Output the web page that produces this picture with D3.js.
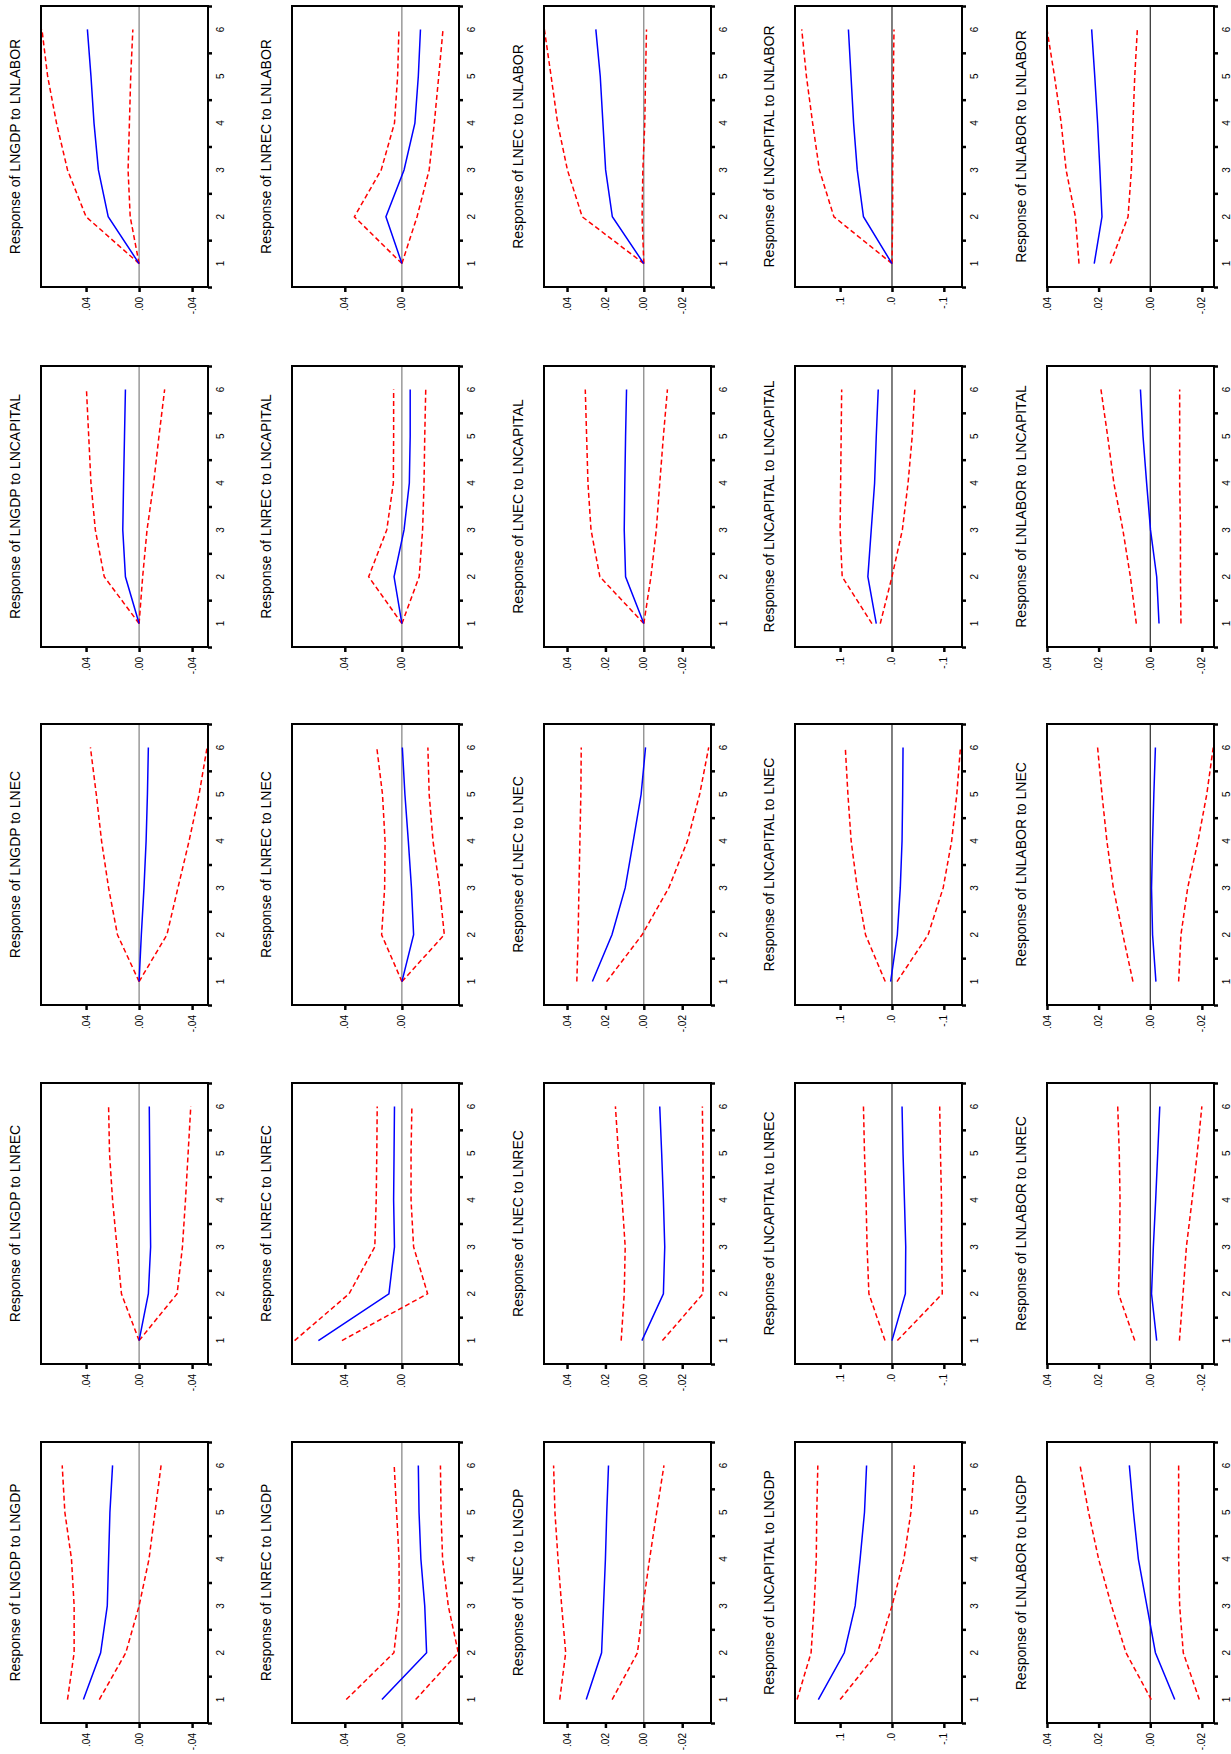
<!DOCTYPE html>
<html>
<head>
<meta charset="utf-8">
<script src="https://cdn.jsdelivr.net/npm/d3@7"></script>
<style>
  body { margin: 0; background: #fff; }
  text { font-family: "Liberation Sans", Arial, sans-serif; }
</style>
</head>
<body>
<svg id="container" width="1231" height="1754"></svg>
<script>
(function (d3) {
  'use strict';

  const variables = ['LNGDP', 'LNREC', 'LNEC', 'LNCAPITAL', 'LNLABOR'];
  const periods = [1, 2, 3, 4, 5, 6];

  // value axis ticks per responding variable
  const valueTicks = [
    [0.04, 0, -0.04],
    [0.04, 0],
    [0.04, 0.02, 0, -0.02],
    [0.1, 0, -0.1],
    [0.04, 0.02, 0, -0.02],
  ];
  const valueDecimals = [2, 2, 2, 1, 2];
  const valueDomains = [
    [0.074, -0.052],
    [0.077, -0.040],
    [0.052, -0.035],
    [0.187, -0.135],
    [0.040, -0.0247],
  ];

  // rows = responding variable (LNGDP, LNREC, LNEC, LNCAPITAL, LNLABOR), 6 periods each
  const meanLNGDP = [
    [.042, .029, .024, .023, .022, .020],
    [.014, -.0173, -.016, -.0133, -.012, -.0115],
    [.030, .022, .021, .020, .0193, .0184],
    [.142, .092, .071, .0615, .053, .049],
    [-.0095, -.002, .0013, .0046, .0065, .0081],
  ];
  const highLNGDP = [
    [.054, .049, .049, .051, .056, .058],
    [.039, .0056, .0019, .002, .0037, .0054],
    [.0438, .0407, .0428, .0447, .0463, .047],
    [.183, .156, .15, .146, .145, .143],
    [-.0004, .0094, .015, .02, .0239, .0272],
  ];
  const lowLNGDP = [
    [.030, .010, 0, -.0075, -.012, -.0166],
    [-.0096, -.0395, -.0325, -.0285, -.0274, -.027],
    [.0165, .0033, .0004, -.003, -.0067, -.0105],
    [.1, .028, 0, -.023, -.0365, -.043],
    [-.019, -.0128, -.0114, -.011, -.011, -.011],
  ];

  const meanLNREC = [
    [0, -.007, -.0087, -.0083, -.008, -.0077],
    [.0585, .0091, .0052, .0058, .0055, .0052],
    [.001, -.0102, -.0109, -.0102, -.0093, -.0083],
    [0, -.0258, -.0265, -.024, -.0213, -.0194],
    [-.0025, -.0005, -.0012, -.0021, -.0029, -.0037],
  ];
  const highLNREC = [
    [0, .0133, .0167, .02, .0223, .023],
    [.0752, .037, .019, .018, .0176, .0173],
    [.0118, .0102, .0097, .0113, .0132, .0148],
    [.0135, .0445, .048, .05, .053, .055],
    [.006, .0123, .0119, .0117, .012, .0126],
  ];
  const lowLNREC = [
    [0, -.0287, -.0327, -.035, -.037, -.039],
    [.042, -.018, -.0082, -.0064, -.0064, -.007],
    [-.0097, -.0308, -.031, -.031, -.0308, -.0305],
    [-.0103, -.097, -.0955, -.0955, -.0935, -.092],
    [-.0113, -.0127, -.014, -.0162, -.0182, -.02],
  ];

  const meanLNEC = [
    [0, -.0017, -.0037, -.0053, -.0063, -.007],
    [0, -.0082, -.0067, -.0045, -.0021, -.0003],
    [.0268, .0166, .0097, .0055, .0014, -.0009],
    [.0026, -.0103, -.016, -.0194, -.0206, -.0213],
    [-.0022, -.0009, -.0005, -.0009, -.0014, -.002],
  ];
  const highLNEC = [
    [0, .0163, .023, .0283, .0323, .0367],
    [0, .0142, .0121, .0118, .0136, .0176],
    [.0349, .0342, .0338, .0333, .0328, .0326],
    [.013, .051, .067, .0787, .085, .09],
    [.0067, .0106, .0143, .0168, .0187, .0204],
  ];
  const lowLNEC = [
    [0, -.021, -.0293, -.0377, -.0453, -.0513],
    [0, -.0297, -.0264, -.0218, -.0191, -.0182],
    [.0194, .0009, -.013, -.0227, -.0291, -.0338],
    [-.0097, -.0697, -.0987, -.115, -.125, -.132],
    [-.011, -.0119, -.0145, -.0185, -.0219, -.0244],
  ];

  const meanLNCAPITAL = [
    [0, .0103, .0123, .0117, .011, .0103],
    [0, .0055, -.0015, -.0052, -.0058, -.0058],
    [0, .0095, .0102, .0099, .0095, .009],
    [.0303, .0465, .04, .0335, .0303, .0265],
    [-.0034, -.0025, -.0001, .0014, .0028, .0038],
  ];
  const highLNCAPITAL = [
    [0, .0263, .033, .0363, .038, .0397],
    [0, .0233, .0106, .006, .0058, .0058],
    [0, .0229, .0275, .0291, .0298, .0305],
    [.0387, .096, .1, .099, .098, .097],
    [.0054, .0077, .0106, .0141, .0165, .0191],
  ];
  const lowLNCAPITAL = [
    [0, -.0027, -.006, -.011, -.015, -.0193],
    [0, -.0121, -.0145, -.0155, -.016, -.0167],
    [0, -.0037, -.0065, -.0083, -.0102, -.0123],
    [.0226, 0, -.02, -.031, -.039, -.044],
    [-.0119, -.0117, -.0117, -.0114, -.0114, -.0114],
  ];

  const meanLNLABOR = [
    [0, .0233, .0307, .034, .0363, .039],
    [0, .0112, -.0015, -.0091, -.0115, -.013],
    [0, .0164, .0199, .0213, .0227, .025],
    [0, .055, .067, .074, .079, .084],
    [.0217, .0187, .0195, .0204, .0215, .0227],
  ];
  const highLNLABOR = [
    [0, .04, .054, .0623, .069, .0733],
    [0, .0333, .0145, .0052, .003, .0021],
    [0, .0321, .0398, .0449, .0483, .0518],
    [0, .112, .14, .153, .165, .174],
    [.0276, .029, .0326, .0345, .0371, .04],
  ];
  const lowLNLABOR = [
    [0, .0067, .0083, .0073, .0063, .0047],
    [0, -.0106, -.0191, -.0227, -.0258, -.0288],
    [0, .0009, .0005, -.0005, -.0009, -.0014],
    [0, -.0013, -.0013, -.0026, -.0026, -.0039],
    [.0155, .0086, .0073, .0067, .006, .005],
  ];

  const shocks = [
    { name: 'LNGDP', mean: meanLNGDP, hi: highLNGDP, lo: lowLNGDP },
    { name: 'LNREC', mean: meanLNREC, hi: highLNREC, lo: lowLNREC },
    { name: 'LNEC', mean: meanLNEC, hi: highLNEC, lo: lowLNEC },
    { name: 'LNCAPITAL', mean: meanLNCAPITAL, hi: highLNCAPITAL, lo: lowLNCAPITAL },
    { name: 'LNLABOR', mean: meanLNLABOR, hi: highLNLABOR, lo: lowLNLABOR },
  ];

  // the usual EViews grid, turned a quarter turn on the page
  const BOX_W = 167;
  const BOX_H = 281;
  const colLeft = [41, 292, 544, 795, 1047];
  const rowTop = [1442, 1083, 724, 366, 6]; // by shock

  // EViews style: ".04", "-.02", ".0"
  const fmt = (v, dec) => {
    const s = Math.abs(v).toFixed(dec).replace(/^0/, '');
    return (v < 0 ? '-' : '') + s;
  };

  const svg = d3.select('#container');

  shocks.forEach((shock, si) => {
    variables.forEach((resp, ri) => {
      const g = svg.append('g')
        .attr('transform', `translate(${colLeft[ri]},${rowTop[si]})`);

      const x = d3.scaleLinear().domain(valueDomains[ri]).range([0, BOX_W]);
      const y = d3.scaleLinear().domain([0.5, 6.5]).range([BOX_H, 0]);

      const clipId = `clip-${si}-${ri}`;
      g.append('clipPath').attr('id', clipId)
        .append('rect').attr('width', BOX_W).attr('height', BOX_H);

      // zero line
      g.append('line')
        .attr('x1', x(0)).attr('x2', x(0))
        .attr('y1', 0).attr('y2', BOX_H)
        .attr('stroke', ri >= 3 ? '#000' : '#666')
        .attr('stroke-width', 1);

      const line = d3.line()
        .x((d) => x(d))
        .y((d, i) => y(periods[i]));

      const plot = g.append('g').attr('clip-path', `url(#${clipId})`);
      [shock.hi[ri], shock.lo[ri]].forEach((vals) => {
        plot.append('path')
          .attr('d', line(vals))
          .attr('fill', 'none')
          .attr('stroke', '#ff0000')
          .attr('stroke-width', 1.5)
          .attr('stroke-dasharray', '5,3');
      });
      plot.append('path')
        .attr('d', line(shock.mean[ri]))
        .attr('fill', 'none')
        .attr('stroke', '#0000ff')
        .attr('stroke-width', 1.5);

      // frame
      g.append('rect')
        .attr('width', BOX_W).attr('height', BOX_H)
        .attr('fill', 'none').attr('stroke', '#000').attr('stroke-width', 2);

      // value axis (below box)
      const vAxis = g.append('g')
        .attr('transform', `translate(0,${BOX_H})`)
        .call(d3.axisBottom(x).tickValues(valueTicks[ri]).tickSize(5).tickFormat(''));
      vAxis.select('.domain').remove();
      vAxis.selectAll('line').attr('stroke-width', 2.5);
      valueTicks[ri].forEach((v) => {
        g.append('text')
          .attr('transform', `translate(${x(v) + 3.5},${BOX_H + 10}) rotate(-90)`)
          .attr('text-anchor', 'end')
          .attr('font-size', 10)
          .text(fmt(v, valueDecimals[ri]));
      });

      // period axis (right of box)
      const pAxis = g.append('g')
        .attr('transform', `translate(${BOX_W},0)`)
        .call(d3.axisRight(y).tickValues(d3.range(0.5, 7, 1)).tickSize(4).tickFormat(''));
      pAxis.select('.domain').remove();
      pAxis.selectAll('line').attr('stroke-width', 2.5);
      periods.forEach((p) => {
        g.append('text')
          .attr('transform', `translate(${BOX_W + 16},${y(p)}) rotate(-90)`)
          .attr('text-anchor', 'middle')
          .attr('font-size', 10)
          .text(p);
      });

      // title
      g.append('text')
        .attr('transform', `translate(-21,${BOX_H / 2}) rotate(-90)`)
        .attr('text-anchor', 'middle')
        .attr('font-size', 14)
        .text(`Response of ${resp} to ${shock.name}`);
    });
  });

}(d3));
</script>
</body>
</html>
